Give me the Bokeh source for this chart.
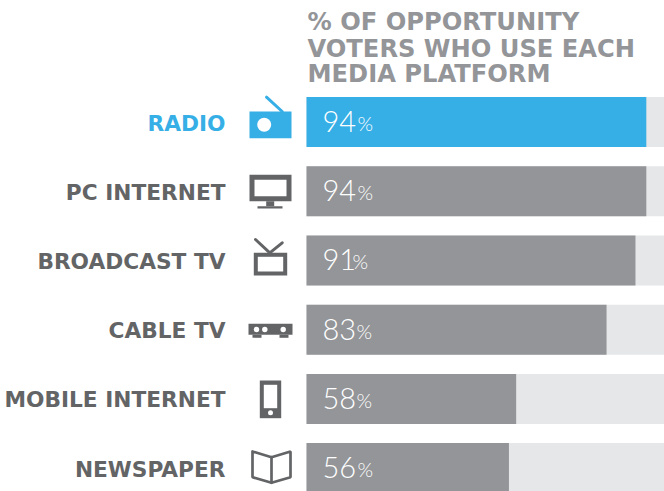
from bokeh.plotting import figure
from bokeh.models import Range1d
from bokeh.core.properties import value
from bokeh.embed import file_html
from bokeh.resources import INLINE

categories = ["RADIO", "PC INTERNET", "BROADCAST TV", "CABLE TV", "MOBILE INTERNET", "NEWSPAPER"]
shares = [94, 94, 91, 83, 58, 56]
title_lines = ["% OF OPPORTUNITY", "VOTERS WHO USE EACH", "MEDIA PLATFORM"]
percent_offsets = [35, 35, 30, 34, 34, 35]

W, H = 664, 491
BLUE, GREY, TRACK, DARK = "#36aee6", "#939598", "#e6e7e8", "#636466"
x0, ppu = 306, 3.615       # pixel of 0 %, pixels per percent
y0, step = 121.6, 69.2     # pixel of first row, pixels per row

p = figure(width=W, height=H, output_backend="svg", toolbar_location=None,
           x_range=Range1d(-x0 / ppu, (W - x0) / ppu),
           y_range=Range1d((H - y0) / step, -y0 / step),
           x_axis_type=None, y_axis_type=None, min_border=0,
           outline_line_color=None)
p.grid.visible = False
p.extra_x_ranges["px"] = Range1d(0, W)
p.extra_y_ranges["px"] = Range1d(H, 0)

rows = list(range(len(categories)))
colors = [BLUE if c == "RADIO" else GREY for c in categories]
label_colors = [BLUE if c == "RADIO" else DARK for c in categories]
bar_h = 50 / step

p.hbar(y=rows, left=0, right=100, height=bar_h, color=TRACK, line_color=None)
p.hbar(y=rows, left=0, right=shares, height=bar_h, fill_color=colors, line_color=None)

px = dict(x_range_name="px", y_range_name="px")
LABEL_FONT = value("DejaVu Sans")

p.text(x=[225] * 6, y=[122.5 + step * i for i in rows], text=categories, text_color=label_colors,
       text_font=LABEL_FONT, text_font_size="21.7px", text_font_style="bold",
       text_align="right", text_baseline="middle", **px)

num = [str(v) for v in shares]
p.text(x=[322] * 6, y=[121 + step * i for i in rows], text=num, text_color="#ffffff",
       text_font=value("Lato Light"), text_font_size="29px",
       text_align="left", text_baseline="alphabetic", **px)
p.text(x=[322 + o for o in percent_offsets], y=[122.5 + step * i for i in rows],
       text=["%"] * 6, text_color="#ffffff", text_font=value("Lato Light"), text_font_size="20px",
       text_align="left", text_baseline="alphabetic", **px)

p.text(x=[307] * 3, y=[21.5, 48.2, 73.7], text=title_lines, text_color=GREY, text_font=LABEL_FONT,
       text_font_size="24.2px", text_font_style="bold", text_align="left", text_baseline="alphabetic", **px)

# Icons, drawn on the pixel scale
def box(l, t, r, b, c):
    p.quad(left=[l], right=[r], top=[t], bottom=[b], fill_color=c, line_color=None, **px)
def seg(xs, ys, c, w=3):
    p.line(x=xs, y=ys, line_color=c, line_width=w, line_cap="round", **px)
def dot(x, y, r, c):
    p.circle(x=[x], y=[y], radius=r, fill_color=c, line_color=None, **px)

# radio
box(249, 111, 291, 137.7, BLUE)
seg([266, 281.7], [96.7, 111], BLUE)
dot(263.7, 124.3, 7, "#ffffff")
# monitor
box(249, 174.3, 291, 200.7, DARK)
box(254, 179.3, 286, 195.7, "#ffffff")
box(265.7, 200.7, 273.7, 205.7, DARK)
box(257, 205.7, 282, 208, DARK)
# tv
box(253.3, 252.3, 286.7, 275, DARK)
box(257.3, 256.3, 282.7, 271, "#ffffff")
seg([255, 269.3, 281.7], [239, 252.3, 242.3], DARK)
# cable box
box(248, 323.3, 292, 334.3, DARK)
box(252, 334.3, 261, 337.3, DARK)
box(279, 334.3, 288, 337.3, DARK)
for cx in (256, 264.3, 282.7):
    dot(cx, 329, 2.7, "#ffffff")
# phone
box(259.3, 380, 280.7, 417.7, DARK)
box(263.3, 384.3, 276.7, 407.7, "#ffffff")
dot(270, 412.3, 2.5, "#ffffff")
# book
seg([252, 271, 290, 290, 271, 252, 252], [451, 456.7, 451, 476.7, 482.3, 476.7, 451], DARK, 2.7)
seg([271, 271], [456.7, 482.3], DARK, 2.7)

html = file_html(p, INLINE).replace("</head>", "<style>html,body{margin:0;padding:0;overflow:hidden}</style></head>")
open("out.html", "w").write(html)
